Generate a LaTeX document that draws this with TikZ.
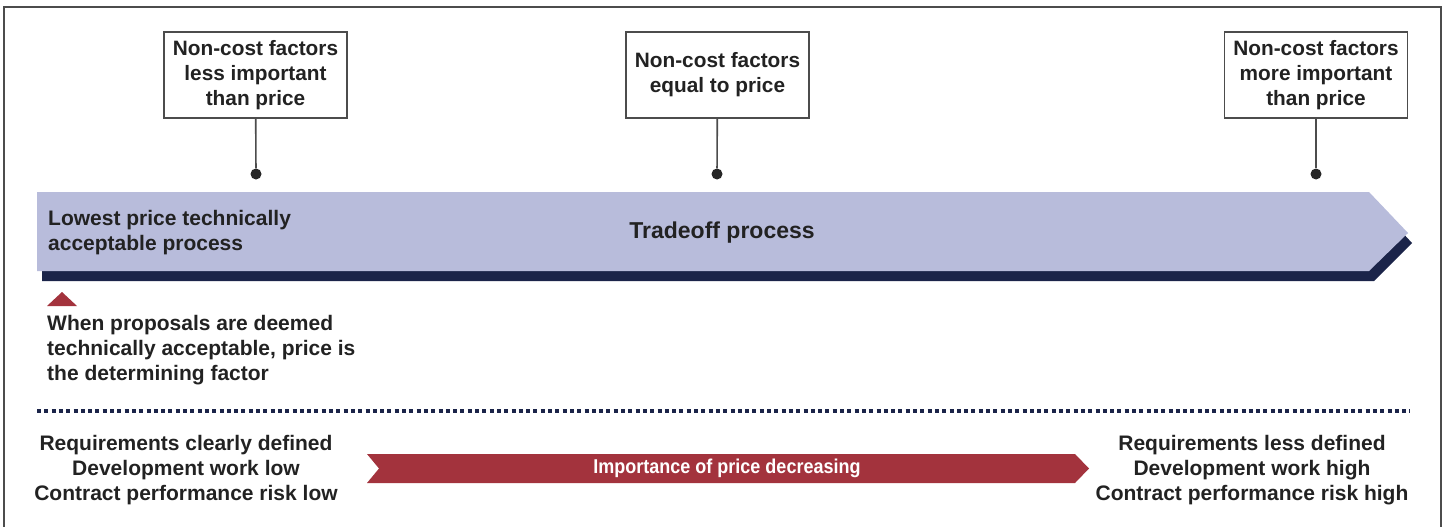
\documentclass[tikz,border=0pt]{standalone}
\usepackage{fontspec}
\setmainfont{Liberation Sans}
\usepackage{graphicx}
\usepackage{tikz}
\usetikzlibrary{positioning}
\definecolor{bandlight}{HTML}{B8BCDB}
\definecolor{banddark}{HTML}{1B2449}
\definecolor{pricered}{HTML}{A3333D}
\definecolor{inkgray}{HTML}{222222}
\tikzset{
  factorbox/.style={draw=black!70, line width=1.3pt, fill=white, align=center, inner sep=0pt,
    minimum width=183pt, minimum height=86pt, text=inkgray,
    font=\bfseries\fontsize{20.8}{25}\selectfont},
  pindot/.style={circle, fill=black!85, inner sep=0pt, minimum size=11pt},
  stem/.style={draw=black!70, line width=1.6pt},
  plaintext/.style={inner sep=0pt, text=inkgray, font=\bfseries\fontsize{21}{25}\selectfont}
}
\begin{document}
\begin{tikzpicture}[x=1pt,y=-1pt]
\useasboundingbox (0,0) rectangle (1445,527);
\fill [white] (0,0) rectangle (1445,527);
\draw [black!70, line width=1.5pt] (4,527) -- (4,7) -- (1441,7) -- (1441,527);
\fill [banddark] (42,202) -- (1374,202) -- (1412,243) -- (1374,281) -- (42,281) -- cycle;
\fill [bandlight] (37,192) -- (1369,192) -- (1408,233) -- (1369,271) -- (37,271) -- cycle;
\node [factorbox] (f1) at (255.5,75) {Non-cost factors\\less important\\than price};
\node [factorbox] (f2) at (717.5,75) {Non-cost factors\\equal to price};
\node [factorbox] (f3) at (1316,75) {Non-cost factors\\more important\\than price};
\node [pindot] (d1) at (256,174) {};
\node [pindot] (d2) at (717,174) {};
\node [pindot] (d3) at (1316,174) {};
\draw [stem] (f1) -- (d1);
\draw [stem] (f2) -- (d2);
\draw [stem] (f3) -- (d3);
\node [plaintext, anchor=west, align=left] (lpta) at (48,233) {Lowest price technically\\acceptable process};
\node [plaintext, font=\bfseries\fontsize{23}{27}\selectfont] (trade) at (722,233) {Tradeoff process};
\fill [pricered] (47,306) -- (62,292) -- (77,306) -- cycle;
\node [plaintext, anchor=west, align=left] (note) at (47,350) {When proposals are deemed\\technically acceptable, price is\\the determining factor};
\draw [banddark, line width=4pt, dash pattern=on 4pt off 3.3pt] (37,411) -- (1410,411);
\node [plaintext, align=center] (low) at (186,470) {Requirements clearly defined\\Development work low\\Contract performance risk low};
\node [plaintext, align=center] (high) at (1252,470) {Requirements less defined\\Development work high\\Contract performance risk high};
\fill [pricered] (367,454) -- (1075,454) -- (1089,468.5) -- (1075,483) -- (367,483) -- (379,468.5) -- cycle;
\node [plaintext, text=white, font=\bfseries\fontsize{20}{24}\selectfont] (imp) at (727,468.5) {\scalebox{0.9}[1]{Importance of price decreasing}};
\end{tikzpicture}
\end{document}
